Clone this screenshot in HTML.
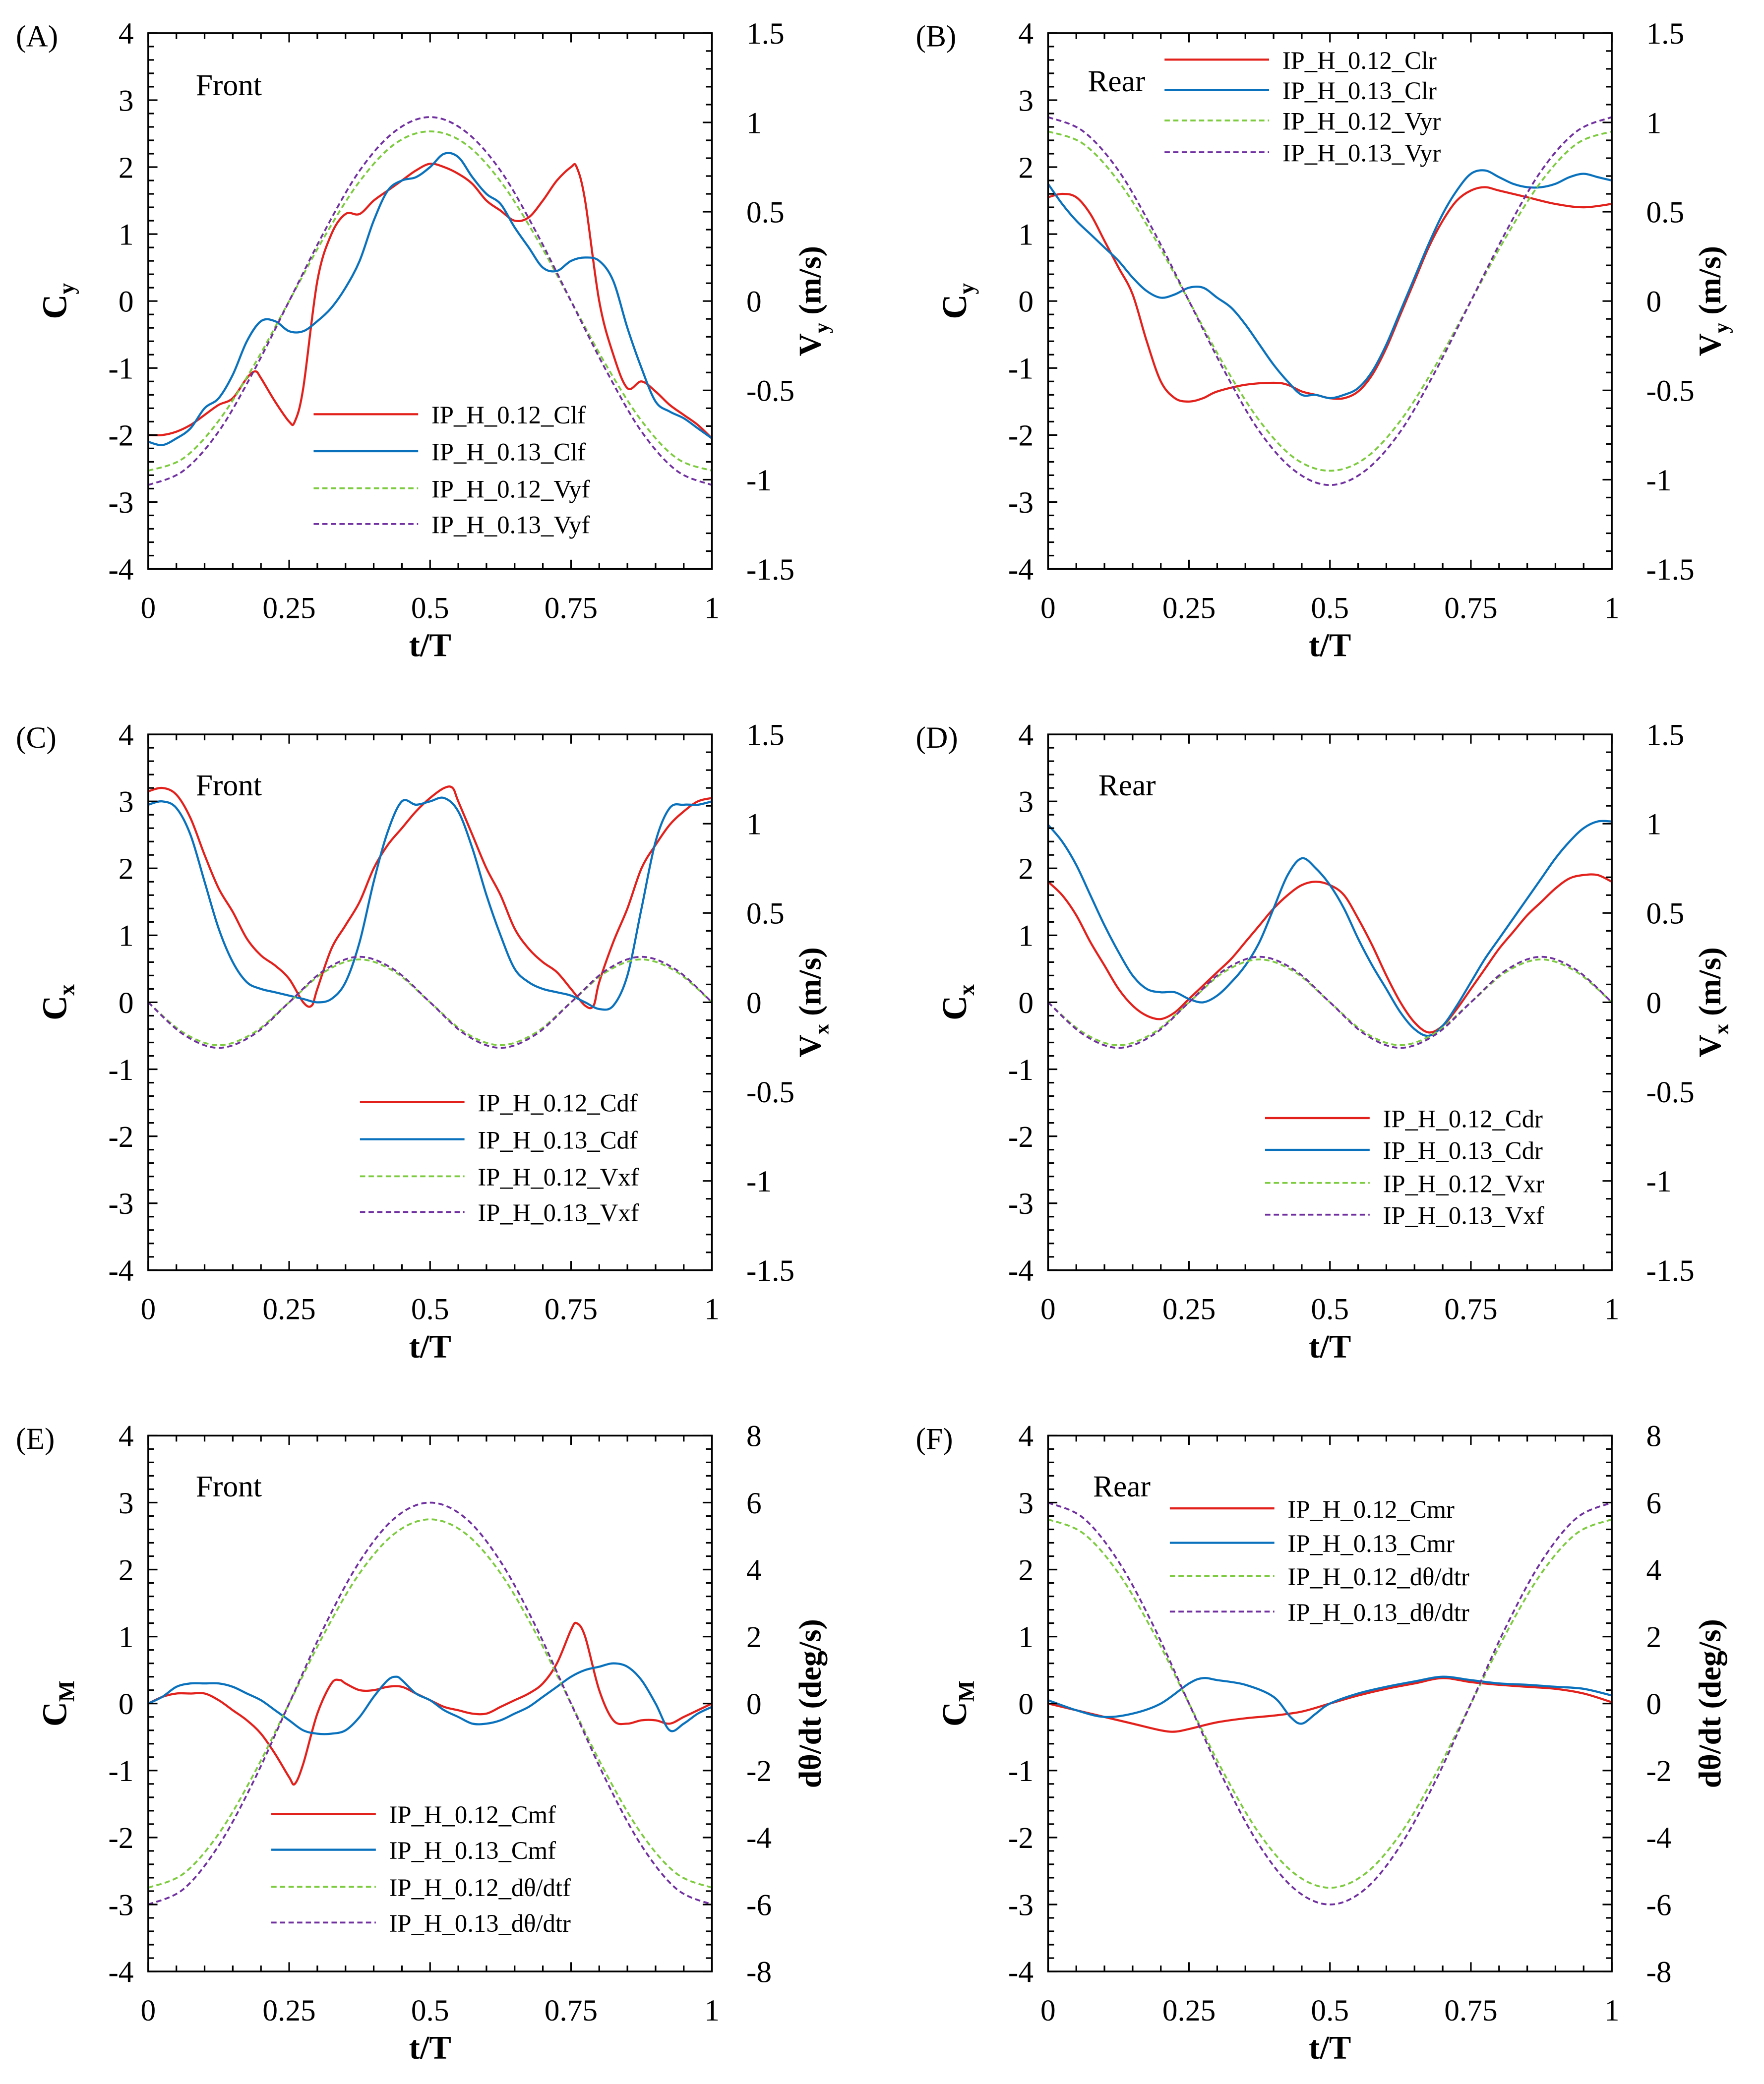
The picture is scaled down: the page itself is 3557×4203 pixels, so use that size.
<!DOCTYPE html>
<html><head><meta charset="utf-8"><style>
html,body{margin:0;padding:0;background:#fff}
svg{display:block}
text{font-family:"Liberation Serif",serif;fill:#000}
</style></head><body>
<svg id="fig" xmlns="http://www.w3.org/2000/svg" width="3557" height="4203" viewBox="0 0 1333 1575"></svg>
<script>
// ---- data arrays ----
const tCos = [0,0.0625,0.125,0.1875,0.25,0.3125,0.375,0.4375,0.5,0.5625,0.625,0.6875,0.75,0.8125,0.875,0.9375,1];
const vyf12 = [-0.95,-0.88,-0.67,-0.36,0,0.36,0.67,0.88,0.95,0.88,0.67,0.36,0,-0.36,-0.67,-0.88,-0.95];
const vyf13 = [-1.03,-0.95,-0.73,-0.39,0,0.39,0.73,0.95,1.03,0.95,0.73,0.39,0,-0.39,-0.73,-0.95,-1.03];
const vyr12 = [0.95,0.88,0.67,0.36,0,-0.36,-0.67,-0.88,-0.95,-0.88,-0.67,-0.36,0,0.36,0.67,0.88,0.95];
const vyr13 = [1.03,0.95,0.73,0.39,0,-0.39,-0.73,-0.95,-1.03,-0.95,-0.73,-0.39,0,0.39,0.73,0.95,1.03];
const vx12 = [0,-0.17,-0.24,-0.17,0,0.17,0.24,0.17,0,-0.17,-0.24,-0.17,0,0.17,0.24,0.17,0];
const vx13 = [0,-0.18,-0.255,-0.18,0,0.18,0.255,0.18,0,-0.18,-0.255,-0.18,0,0.18,0.255,0.18,0];
const dthf12 = [-5.5,-5.08,-3.89,-2.1,0,2.1,3.89,5.08,5.5,5.08,3.89,2.1,0,-2.1,-3.89,-5.08,-5.5];
const dthf13 = [-6,-5.54,-4.24,-2.3,0,2.3,4.24,5.54,6,5.54,4.24,2.3,0,-2.3,-4.24,-5.54,-6];
const dthr12 = [5.5,5.08,3.89,2.1,0,-2.1,-3.89,-5.08,-5.5,-5.08,-3.89,-2.1,0,2.1,3.89,5.08,5.5];
const dthr13 = [6,5.54,4.24,2.3,0,-2.3,-4.24,-5.54,-6,-5.54,-4.24,-2.3,0,2.3,4.24,5.54,6];

const tClf12 = [0,.025,.05,.075,.1,.125,.15,.175,.19,.2,.225,.25,.26,.275,.3,.325,.35,.375,.4,.425,.45,.475,.5,.525,.55,.575,.6,.625,.65,.675,.7,.725,.75,.76,.775,.8,.825,.85,.875,.9,.925,.95,.975,1];
const clf12 = [-2.0,-2.0,-1.95,-1.85,-1.7,-1.55,-1.45,-1.15,-1.05,-1.15,-1.5,-1.8,-1.8,-1.3,0.3,1.0,1.3,1.3,1.5,1.65,1.8,1.95,2.05,2.0,1.9,1.75,1.5,1.35,1.2,1.25,1.5,1.8,2.0,2.0,1.5,0.0,-0.8,-1.3,-1.2,-1.35,-1.55,-1.7,-1.85,-2.05];
const tStd = [0,.025,.05,.075,.1,.125,.15,.175,.2,.225,.25,.275,.3,.325,.35,.375,.4,.425,.45,.475,.5,.525,.55,.575,.6,.625,.65,.675,.7,.725,.75,.775,.8,.825,.85,.875,.9,.925,.95,.975,1];
const clf13 = [-2.1,-2.15,-2.05,-1.9,-1.6,-1.45,-1.1,-0.6,-0.3,-0.3,-0.45,-0.45,-0.3,-0.1,0.2,0.6,1.2,1.65,1.8,1.85,2.0,2.2,2.15,1.85,1.6,1.45,1.1,0.8,0.5,0.45,0.6,0.65,0.6,0.3,-0.4,-1.0,-1.5,-1.65,-1.75,-1.9,-2.05];

const tClr12 = [0,.025,.05,.075,.1,.125,.15,.175,.2,.225,.25,.275,.3,.35,.4,.425,.45,.475,.5,.525,.55,.575,.6,.625,.65,.675,.7,.725,.75,.775,.8,.85,.9,.95,1];
const clr12 = [1.55,1.6,1.55,1.3,0.9,0.5,0.1,-0.6,-1.2,-1.45,-1.5,-1.45,-1.35,-1.25,-1.22,-1.25,-1.35,-1.4,-1.45,-1.45,-1.35,-1.1,-0.7,-0.2,0.3,0.8,1.2,1.5,1.65,1.7,1.65,1.55,1.45,1.4,1.45];
const clr13 = [1.75,1.45,1.2,1.0,0.8,0.6,0.35,0.15,0.05,0.1,0.2,0.2,0.05,-0.1,-0.35,-0.65,-0.95,-1.2,-1.4,-1.4,-1.45,-1.4,-1.3,-1.05,-0.65,-0.15,0.35,0.85,1.3,1.65,1.9,1.95,1.85,1.75,1.7,1.7,1.75,1.85,1.9,1.85,1.8];

const tCdf12 = [0,.025,.05,.075,.1,.125,.15,.175,.2,.225,.25,.275,.29,.3,.325,.35,.375,.4,.425,.45,.475,.5,.525,.54,.55,.575,.6,.625,.65,.675,.7,.725,.75,.775,.79,.8,.825,.85,.875,.9,.925,.95,.975,1];
const cdf12 = [3.15,3.2,3.1,2.75,2.2,1.7,1.35,0.95,0.7,0.55,0.35,0.0,-0.05,0.2,0.8,1.15,1.5,2.0,2.35,2.6,2.85,3.05,3.2,3.2,3.0,2.5,2.0,1.6,1.1,0.8,0.6,0.45,0.2,-0.05,-0.05,0.3,0.9,1.4,2.0,2.35,2.65,2.85,3.0,3.05];
const cdf13 = [2.95,3.0,2.9,2.5,1.8,1.1,0.6,0.3,0.2,0.15,0.1,0.05,0.0,0.05,0.3,0.9,1.8,2.55,3.0,2.95,3.0,3.05,2.85,2.3,1.6,1.0,0.5,0.3,0.2,0.15,0.1,0.0,-0.1,-0.05,0.4,1.4,2.4,2.9,2.95,2.95,3.0];

const cdr12 = [1.8,1.6,1.3,0.9,0.55,0.2,-0.05,-0.2,-0.25,-0.15,0.05,0.25,0.45,0.65,0.9,1.15,1.4,1.6,1.75,1.8,1.75,1.6,1.25,0.85,0.4,0.0,-0.3,-0.45,-0.35,-0.1,0.2,0.5,0.8,1.05,1.3,1.5,1.7,1.85,1.9,1.9,1.8];
const cdr13 = [2.65,2.4,2.05,1.6,1.15,0.75,0.4,0.2,0.15,0.15,0.05,0.0,0.1,0.3,0.55,0.9,1.4,1.9,2.15,2.0,1.75,1.4,0.95,0.55,0.2,-0.15,-0.4,-0.5,-0.35,-0.05,0.3,0.65,0.95,1.25,1.55,1.85,2.15,2.4,2.6,2.7,2.7];

const tCmf12 = [0,.025,.05,.075,.1,.125,.15,.175,.2,.225,.25,.26,.275,.3,.325,.34,.35,.375,.4,.425,.45,.475,.5,.525,.55,.575,.6,.625,.65,.675,.7,.725,.75,.76,.775,.8,.825,.85,.875,.9,.925,.95,.975,1];
const cmf12 = [0.0,0.1,0.15,0.15,0.15,0.05,-0.1,-0.25,-0.45,-0.75,-1.1,-1.2,-0.9,-0.15,0.3,0.35,0.3,0.2,0.2,0.25,0.25,0.15,0.05,-0.05,-0.1,-0.15,-0.15,-0.05,0.05,0.15,0.3,0.6,1.1,1.2,1.0,0.2,-0.25,-0.3,-0.25,-0.25,-0.3,-0.2,-0.1,0.0];
const tCmf13 = [0,.025,.05,.075,.1,.125,.15,.175,.2,.225,.25,.275,.3,.325,.35,.375,.4,.425,.44,.45,.475,.5,.525,.55,.575,.6,.625,.65,.675,.7,.725,.75,.775,.8,.825,.85,.875,.9,.925,.95,.975,1];
const cmf13 = [0.0,0.1,0.25,0.3,0.3,0.3,0.25,0.15,0.05,-0.1,-0.25,-0.4,-0.45,-0.45,-0.4,-0.2,0.1,0.35,0.4,0.35,0.15,0.05,-0.1,-0.2,-0.3,-0.3,-0.25,-0.15,-0.05,0.1,0.25,0.4,0.5,0.55,0.6,0.55,0.35,0.0,-0.4,-0.3,-0.15,-0.05];

const tCmr12 = [0,.05,.1,.15,.2,.225,.25,.3,.35,.4,.45,.5,.55,.6,.65,.7,.75,.8,.85,.9,.95,1];
const cmr12 = [0.0,-0.1,-0.2,-0.3,-0.4,-0.42,-0.38,-0.28,-0.22,-0.18,-0.12,0.0,0.12,0.22,0.3,0.38,0.32,0.28,0.25,0.22,0.15,0.02];
const tCmr13 = [0,.05,.1,.15,.2,.25,.275,.3,.35,.4,.43,.45,.475,.5,.55,.6,.65,.7,.75,.8,.85,.9,.95,1];
const cmr13 = [0.05,-0.1,-0.2,-0.15,0.0,0.3,0.38,0.35,0.28,0.1,-0.2,-0.3,-0.15,0.0,0.15,0.25,0.33,0.4,0.35,0.3,0.28,0.25,0.22,0.12];

const xTickLabels = ["0","0.25","0.5","0.75","1"];
const RED="#e3211c", BLUE="#0a72bd", GREEN="#7dcb3f", PURPLE="#7030a0";
const svg = document.getElementById('fig');
const NS="http://www.w3.org/2000/svg";
function el(tag, attrs, parent){const e=document.createElementNS(NS,tag);for(const k in attrs)e.setAttribute(k,attrs[k]);(parent||svg).appendChild(e);return e;}
function smooth(pts){let d=`M${pts[0][0].toFixed(2)},${pts[0][1].toFixed(2)}`;
 for(let i=0;i<pts.length-1;i++){const p0=pts[Math.max(0,i-1)],p1=pts[i],p2=pts[i+1],p3=pts[Math.min(pts.length-1,i+2)];
  const c1=[p1[0]+(p2[0]-p0[0])/6,p1[1]+(p2[1]-p0[1])/6],c2=[p2[0]-(p3[0]-p1[0])/6,p2[1]-(p3[1]-p1[1])/6];
  d+=`C${c1[0].toFixed(2)},${c1[1].toFixed(2)} ${c2[0].toFixed(2)},${c2[1].toFixed(2)} ${p2[0].toFixed(2)},${p2[1].toFixed(2)}`;}
 return d;}

const W=426,H=405;
const panels=[
 {id:'a',letter:'(A)',x0:112,y0:25,tag:'Front',tagX:148,tagY:72,ylab:'C',ysub:'y',rlab:'V',rsub:'y',runit:' (m/s)',rmin:-1.5,rmax:1.5,rstep:0.5,rminor:0.1,
  series:[[tClf12,clf12,RED,0,'IP_H_0.12_Clf'],[tStd,clf13,BLUE,0,'IP_H_0.13_Clf'],[tCos,vyf12,GREEN,1,'IP_H_0.12_Vyf'],[tCos,vyf13,PURPLE,1,'IP_H_0.13_Vyf']],
  leg:{x:237,ys:[313,341,369,396]}},
 {id:'b',letter:'(B)',x0:792,y0:25,tag:'Rear',tagX:822,tagY:69,ylab:'C',ysub:'y',rlab:'V',rsub:'y',runit:' (m/s)',rmin:-1.5,rmax:1.5,rstep:0.5,rminor:0.1,
  series:[[tClr12,clr12,RED,0,'IP_H_0.12_Clr'],[tStd,clr13,BLUE,0,'IP_H_0.13_Clr'],[tCos,vyr12,GREEN,1,'IP_H_0.12_Vyr'],[tCos,vyr13,PURPLE,1,'IP_H_0.13_Vyr']],
  leg:{x:880,ys:[45,68,91,115]}},
 {id:'c',letter:'(C)',x0:112,y0:555,tag:'Front',tagX:148,tagY:601,ylab:'C',ysub:'x',rlab:'V',rsub:'x',runit:' (m/s)',rmin:-1.5,rmax:1.5,rstep:0.5,rminor:0.1,
  series:[[tCdf12,cdf12,RED,0,'IP_H_0.12_Cdf'],[tStd,cdf13,BLUE,0,'IP_H_0.13_Cdf'],[tCos,vx12,GREEN,1,'IP_H_0.12_Vxf'],[tCos,vx13,PURPLE,1,'IP_H_0.13_Vxf']],
  leg:{x:272,ys:[833,861,889,916]}},
 {id:'d',letter:'(D)',x0:792,y0:555,tag:'Rear',tagX:830,tagY:601,ylab:'C',ysub:'x',rlab:'V',rsub:'x',runit:' (m/s)',rmin:-1.5,rmax:1.5,rstep:0.5,rminor:0.1,
  series:[[tStd,cdr12,RED,0,'IP_H_0.12_Cdr'],[tStd,cdr13,BLUE,0,'IP_H_0.13_Cdr'],[tCos,vx12,GREEN,1,'IP_H_0.12_Vxr'],[tCos,vx13,PURPLE,1,'IP_H_0.13_Vxf']],
  leg:{x:956,ys:[845,869,894,918]}},
 {id:'e',letter:'(E)',x0:112,y0:1085,tag:'Front',tagX:148,tagY:1131,ylab:'C',ysub:'M',rlab:'dθ/dt (deg/s)',rsub:'',runit:'',rmin:-8,rmax:8,rstep:2,rminor:0.4,
  series:[[tCmf12,cmf12,RED,0,'IP_H_0.12_Cmf'],[tCmf13,cmf13,BLUE,0,'IP_H_0.13_Cmf'],[tCos,dthf12,GREEN,1,'IP_H_0.12_dθ/dtf'],[tCos,dthf13,PURPLE,1,'IP_H_0.13_dθ/dtr']],
  leg:{x:205,ys:[1371,1398,1426,1453]}},
 {id:'f',letter:'(F)',x0:792,y0:1085,tag:'Rear',tagX:826,tagY:1131,ylab:'C',ysub:'M',rlab:'dθ/dt (deg/s)',rsub:'',runit:'',rmin:-8,rmax:8,rstep:2,rminor:0.4,
  series:[[tCmr12,cmr12,RED,0,'IP_H_0.12_Cmr'],[tCmr13,cmr13,BLUE,0,'IP_H_0.13_Cmr'],[tCos,dthr12,GREEN,1,'IP_H_0.12_dθ/dtr'],[tCos,dthr13,PURPLE,1,'IP_H_0.13_dθ/dtr']],
  leg:{x:884,ys:[1140,1166,1191,1218]}}
];

panels.forEach(p=>{
 const g=el('g',{});
 
 
 const X=t=>p.x0+t*W, YL=v=>p.y0+H*(4-v)/8, YR=v=>p.y0+H*(p.rmax-v)/(p.rmax-p.rmin);
 // series (clipped)
 const cid='clip'+p.id;
 const cp=el('clipPath',{id:cid},g); el('rect',{x:p.x0,y:p.y0,width:W,height:H},cp);
 p.series.forEach((s,i)=>{
  const [ts,vs,col,right,name]=s;
  const pts=ts.map((t,k)=>[X(t),right?YR(vs[k]):YL(vs[k])]);
  const path=el('path',{d:smooth(pts),fill:'none',stroke:col,'stroke-width':right?1.4:1.6,'stroke-dasharray':right?'4,2.5':'none','clip-path':`url(#${cid})`},g);
  
  
  // legend
  const ly=p.leg.ys[i];
  const ll=el('line',{x1:p.leg.x,x2:p.leg.x+79,y1:ly,y2:ly,stroke:col,'stroke-width':right?1.4:1.6,'stroke-dasharray':right?'4,2.5':'none'},g);
  
  
  const lt=el('text',{x:p.leg.x+89,y:ly+7,'font-size':19},g); lt.textContent=name;
  
  
 });
 // frame
 const fr=el('rect',{x:p.x0,y:p.y0,width:W,height:H,fill:'none',stroke:'#000','stroke-width':1.3},g);
 
 
 // left ticks
 for(let i=0;i<=40;i++){const v=-4+i*0.2,y=YL(v),maj=i%5===0,len=maj?7:4.5;
  el('line',{x1:p.x0,x2:p.x0+len,y1:y,y2:y,stroke:'#000','stroke-width':1.2},g);
  if(maj){const t=el('text',{x:p.x0-11,y:y+8,'text-anchor':'end','font-size':23},g);t.textContent=String(Math.round(v)).replace('-','-');
   
   }}
 // right ticks
 const nr=Math.round((p.rmax-p.rmin)/p.rminor);
 const per=Math.round(p.rstep/p.rminor);
 for(let i=0;i<=nr;i++){const v=p.rmin+i*p.rminor,y=YR(v),maj=i%per===0,len=maj?7:4.5;
  el('line',{x1:p.x0+W,x2:p.x0+W-len,y1:y,y2:y,stroke:'#000','stroke-width':1.2},g);
  if(maj){const t=el('text',{x:p.x0+W+26,y:y+8,'font-size':23},g);t.textContent=String(Math.round(v*10)/10);
   
   }}
 // x ticks
 for(let i=0;i<=20;i++){const t=i*0.05,x=X(t),maj=i%5===0,len=maj?7:4.5;
  el('line',{x1:x,x2:x,y1:p.y0+H,y2:p.y0+H-len,stroke:'#000','stroke-width':1.2},g);
  el('line',{x1:x,x2:x,y1:p.y0,y2:p.y0+len,stroke:'#000','stroke-width':1.2},g);}
 xTickLabels.forEach((lab,i)=>{const t=el('text',{x:X(i*0.25),y:p.y0+H+37,'text-anchor':'middle','font-size':23},g);t.textContent=lab;
  
  });
 const xt=el('text',{x:p.x0+W/2,y:p.y0+H+66,'text-anchor':'middle','font-size':25,'font-weight':'bold'},g);xt.textContent='t/T';
 
 
 // left title
 const yc=p.y0+H/2;
 const lt=el('text',{transform:`translate(${p.x0-62},${yc}) rotate(-90)`,'text-anchor':'middle','font-size':26,'font-weight':'bold'},g);
 lt.innerHTML=`${p.ylab}<tspan font-size="17" dy="6">${p.ysub}</tspan>`;
 
 
 const rt=el('text',{transform:`translate(${p.x0+W+82},${yc}) rotate(-90)`,'text-anchor':'middle','font-size':24,'font-weight':'bold'},g);
 if(p.rsub) rt.innerHTML=`${p.rlab}<tspan font-size="16" dy="6">${p.rsub}</tspan><tspan dy="-6">${p.runit}</tspan>`; else rt.textContent=p.rlab;
 
 
 const pl=el('text',{x:p.x0-100,y:p.y0+10,'font-size':23},g);pl.textContent=p.letter;
 
 
 const tg=el('text',{x:p.tagX,y:p.tagY,'font-size':23},g);tg.textContent=p.tag;
 
 
});
</script>
</body></html>
